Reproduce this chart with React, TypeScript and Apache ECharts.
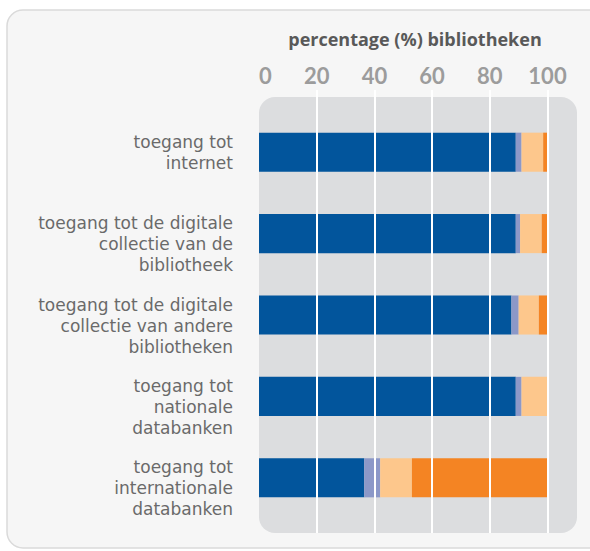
import React, { useEffect, useRef } from "react";
import * as echarts from "echarts";

const categories = [
  "toegang tot\ninternet",
  "toegang tot de digitale\ncollectie van de\nbibliotheek",
  "toegang tot de digitale\ncollectie van andere\nbibliotheken",
  "toegang tot\nnationale\ndatabanken",
  "toegang tot\ninternationale\ndatabanken",
];
const seriesNames = ["reeks 1", "reeks 2", "reeks 3", "reeks 4"];
const darkBlue = [89, 89, 87.5, 89, 36.5];
const lavender = [2, 1.5, 2.5, 2, 5.5];
const lightOrange = [7.5, 7.5, 7, 9, 11];
const orange = [1.5, 2, 3, 0, 47];
const tickValues = [0, 20, 40, 60, 80, 100];
const titleText = "percentage (%) bibliotheken";

const colors = ["#02559c", "#8c98c8", "#fdc78c", "#f48423"];

export default function App() {
  const ref = useRef<HTMLDivElement>(null);
  useEffect(() => {
    document.body.style.margin = "0";
    if (!ref.current) return;
    const chart = echarts.init(ref.current, null, { renderer: "svg" });
    const values = [darkBlue, lavender, lightOrange, orange];
    chart.setOption({
      animation: false,
      backgroundColor: "#ffffff",
      title: {
        text: titleText,
        left: 410,
        top: 25,
        textAlign: "center",
        textStyle: {
          fontFamily: "Open Sans",
          fontSize: 18,
          fontWeight: "bold",
          color: "#595959",
        },
      },
      graphic: [
        {
          type: "rect",
          z: -10,
          shape: { x: 7, y: 10, width: 620, height: 538, r: 16 },
          style: { fill: "#f6f6f6", stroke: "#dadada", lineWidth: 1.5 },
          silent: true,
        },
        {
          type: "rect",
          z: -5,
          shape: { x: 259, y: 97, width: 318, height: 436, r: 16 },
          style: { fill: "#dcdddf" },
          silent: true,
        },
      ],
      grid: [
        { left: 259, right: 42.5, top: 111.5, bottom: 32.5 },
        { left: 259, right: 42.5, top: 90, bottom: 18 },
      ],
      xAxis: [
        { type: "value", gridIndex: 0, min: 0, max: 100, show: false },
        {
          type: "value",
          gridIndex: 1,
          min: 0,
          max: 100,
          interval: 20,
          position: "top",
          z: 10,
          axisLine: { show: false },
          axisTick: { show: false },
          axisLabel: {
            margin: 4,
            fontFamily: "Lato",
            fontSize: 22,
            fontWeight: "bold",
            color: "#9c9c9c",
            alignMinLabel: "left",
            formatter: (v: number) => (tickValues.includes(v) ? String(v) : ""),
          },
          splitLine: {
            show: true,
            showMinLine: false,
            lineStyle: { color: "#ffffff", width: 2 },
          },
        },
      ],
      yAxis: [
        {
          type: "category",
          gridIndex: 0,
          data: categories,
          inverse: true,
          axisLine: { show: false },
          axisTick: { show: false },
          splitLine: { show: false },
          axisLabel: {
            interval: 0,
            hideOverlap: false,
            margin: 26,
            fontFamily: "DejaVu Sans",
            fontSize: 17,
            lineHeight: 21,
            color: "#6a6a6a",
            align: "right",
            formatter: (v: string) =>
              v.split("\n").length >= 3 ? "\n" + v : v,
          },
        },
        { type: "value", gridIndex: 1, show: false },
      ],
      series: values.map((d, i) => ({
        name: seriesNames[i],
        type: "bar",
        stack: "total",
        xAxisIndex: 0,
        yAxisIndex: 0,
        barWidth: "48%",
        itemStyle: { color: colors[i] },
        data: d,
      })),
    });
    return () => chart.dispose();
  }, []);
  return <div ref={ref} style={{ width: 590, height: 551 }} />;
}
